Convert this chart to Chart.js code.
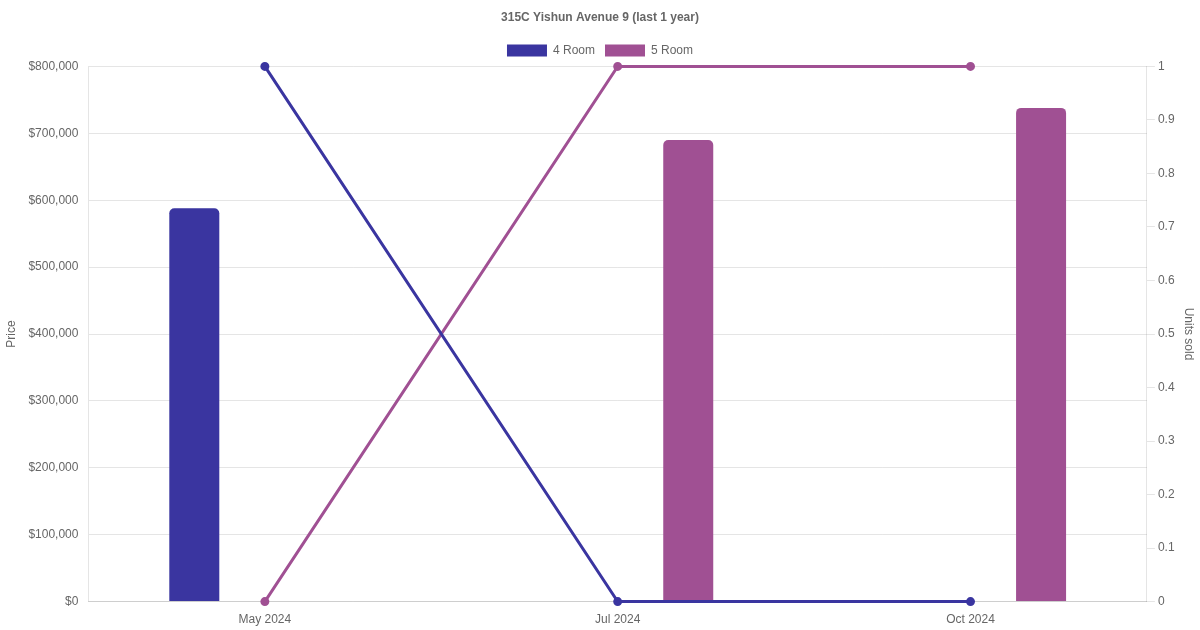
<!DOCTYPE html>
<html>
<head>
<meta charset="utf-8">
<script src="https://cdn.jsdelivr.net/npm/chart.js@4/dist/chart.umd.min.js"></script>
<style>
	html, body { margin: 0; padding: 0; background: #fff; }
	#wrap { width: 1200px; height: 630px; }
</style>
</head>
<body>
<div id="wrap"><canvas id="myChart"></canvas></div>
<script>
const months = ["May 2024", "Jul 2024", "Oct 2024"];
const price4Room = [588000, null, null];
const price5Room = [null, 690000, 738000];
const units4Room = [1, 0, 0];
const units5Room = [0, 1, 1];

const color4 = "#3a35a0";
const color5 = "#a05093";

Chart.defaults.font.family = "'Liberation Sans', Arial, sans-serif";
Chart.defaults.font.size = 12;
Chart.defaults.color = "#666";

new Chart("myChart", {
	data: {
		labels: months,
		datasets: [{
			type: "bar",
			label: "4 Room",
			data: price4Room,
			backgroundColor: color4,
			borderRadius: 5,
			borderSkipped: "bottom",
			maxBarThickness: 50,
			yAxisID: "y",
			order: 2
		}, {
			type: "bar",
			label: "5 Room",
			data: price5Room,
			backgroundColor: color5,
			borderRadius: 5,
			borderSkipped: "bottom",
			maxBarThickness: 50,
			yAxisID: "y",
			order: 2
		}, {
			type: "line",
			label: "4 Room units",
			data: units4Room,
			borderColor: color4,
			backgroundColor: color4,
			borderWidth: 3,
			pointRadius: 3,
			fill: false,
			clip: false,
			yAxisID: "y1",
			order: 1
		}, {
			type: "line",
			label: "5 Room units",
			data: units5Room,
			borderColor: color5,
			backgroundColor: color5,
			borderWidth: 3,
			pointRadius: 3,
			fill: false,
			clip: false,
			yAxisID: "y1",
			order: 1
		}]
	},
	options: {
		responsive: true,
		maintainAspectRatio: false,
		animation: false,
		plugins: {
			title: {
				display: true,
				text: "315C Yishun Avenue 9 (last 1 year)",
				font: { size: 12, weight: "bold" }
			},
			legend: {
				labels: {
					filter: item => item.datasetIndex < 2,
					boxWidth: 40
				}
			}
		},
		scales: {
			x: {
				grid: { display: false },
				ticks: { padding: 3 }
			},
			y: {
				position: "left",
				min: 0,
				max: 800000,
				title: { display: true, text: "Price", padding: { top: 4, bottom: 0 } },
				grid: { drawTicks: false },
				ticks: {
					stepSize: 100000,
					padding: 10,
					callback: v => "$" + v.toLocaleString("en-US")
				}
			},
			y1: {
				position: "right",
				min: 0,
				max: 1,
				title: { display: true, text: "Units sold" },
				grid: { drawOnChartArea: false },
				ticks: {
					stepSize: 0.1,
					callback: v => String(Math.round(v * 10) / 10)
				}
			}
		}
	}
});
</script>
</body>
</html>
